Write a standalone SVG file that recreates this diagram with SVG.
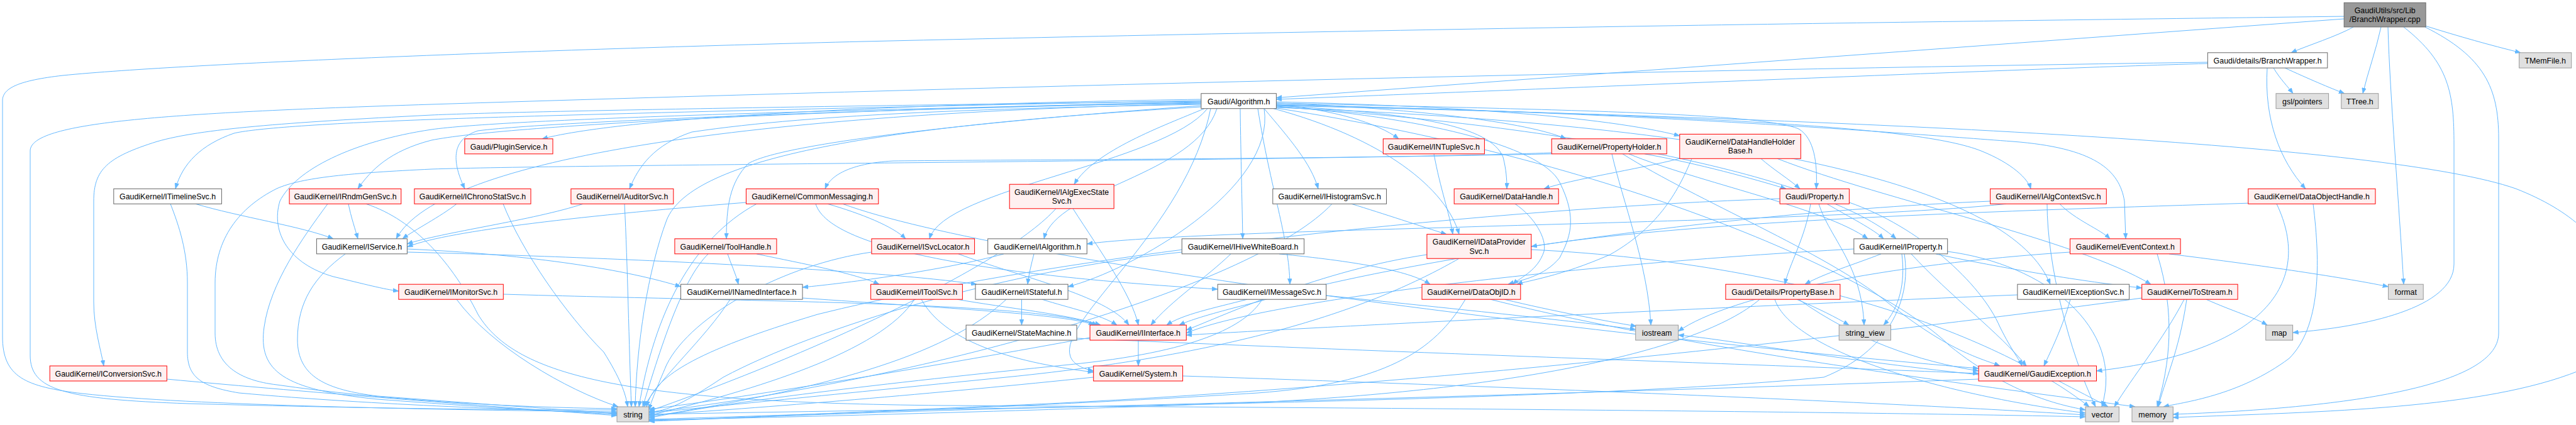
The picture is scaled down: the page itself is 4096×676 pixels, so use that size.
<svg xmlns="http://www.w3.org/2000/svg" width="4096" height="676" viewBox="0 0 4096 676">
<style>
.w rect{fill:#fff;stroke:#666;stroke-width:1}
.r rect{fill:#fff0f0;stroke:#f00;stroke-width:1}
.g rect{fill:#e0e0e0;stroke:#999;stroke-width:1}
.root rect{fill:#999;stroke:#666;stroke-width:1}
text{font-family:"Liberation Sans",Arial,sans-serif;font-size:12.4px;text-anchor:middle;fill:#000}
#edges path{fill:none;stroke:#63b8ff;stroke-width:1;marker-end:url(#a)}
</style>
<defs>
<marker id="a" markerWidth="9" markerHeight="7" refX="9" refY="3.5" orient="auto" markerUnits="userSpaceOnUse"><path d="M0,0 L9,3.5 L0,7 z" fill="#63b8ff" stroke="#63b8ff" stroke-width="0.5"/></marker>
</defs>
<rect x="0" y="0" width="4096" height="676" fill="#fff"/>
<g id="edges">
<path d="M3742,43 C3715,58 3670,72 3643,83.8"/>
<path d="M3786,43 C3778,80 3765,115 3757,148.7"/>
<path d="M3856,41 C3910,58 3960,72 4008,83.8"/>
<path d="M3797,43 C3800,150 3815,330 3822,452.2"/>
<path d="M3822,43 C3895,100 3902,150 3902,230 L3902,420 C3902,490 3760,520 3645.6,529"/>
<path d="M3856,43 C3950,90 3973,140 3973,220 L3973,530 C3973,620 3700,650 3455.3,659"/>
<path d="M3727,30 L2029.4,155.5"/>
<path d="M3727,26 C3200,33 2400,42 1373,66 C900,78 300,100 100,120 C30,128 4,140 4,160 L4,535 C4,600 40,615 131,626 C300,645 700,652 981,655"/>
<path d="M3615,108 C3625,125 3638,138 3646,148.7"/>
<path d="M3633,108 C3670,125 3705,140 3728,148.7"/>
<path d="M3605,108 C3600,190 3625,255 3666,300.3"/>
<path d="M3510.4,101 C3200,110 2500,140 2029.4,158"/>
<path d="M3510.4,99 C2600,112 1500,140 686,166 C250,180 48,195 48,240 L48,565 C48,620 100,635 300,642 C600,650 800,652 981,652"/>
<path d="M1910,158 C1450,165 1000,185 862,220.8"/>
<path d="M1910,160 C1400,170 900,182 686,190 C500,197 400,205 372,212 C320,230 290,260 279,300.3"/>
<path d="M1910,162 C1300,175 800,200 686,223 C620,240 590,270 569,300.3"/>
<path d="M1910,164 C1600,168 900,190 760,208 C715,222 720,260 739,300.3"/>
<path d="M1910,166 C1600,172 1300,180 1100,210 C1040,230 1015,265 1001,300.3"/>
<path d="M1915,172.7 C1850,200 1740,240 1708,293.2"/>
<path d="M1910,165 C1200,180 700,250 630,379.8"/>
<path d="M1910,168 C1600,190 1250,225 1190,260 C1160,290 1155,330 1155,379.8"/>
<path d="M1920,172.7 C1850,260 1500,300 1478,379.8"/>
<path d="M1935,172.7 C1900,280 1680,300 1660,379.8"/>
<path d="M1972,172.7 C1973,250 1975,320 1976,379.8"/>
<path d="M1910,163 C1300,175 800,190 686,206 C560,225 470,270 445,320 C430,370 460,420 530,440 C580,452 610,460 633.9,463"/>
<path d="M1910,161 C1200,170 800,178 686,183 C450,195 320,205 250,225 C170,250 149,270 149,320 L149,480 C149,520 160,555 165,582"/>
<path d="M1910,170 C1400,200 1100,250 1060,350 C1030,430 1012,550 1010,647"/>
<path d="M2010,172.7 C2030,300 1800,430 1698.1,456"/>
<path d="M2000,172.7 C2020,300 2050,380 2051,452.2"/>
<path d="M1925,172.7 C1880,400 1600,560 1738.7,590"/>
<path d="M2010,172.7 C2050,220 2085,260 2096,300.3"/>
<path d="M2029.4,166 C2120,175 2190,195 2224,220.8"/>
<path d="M2029.4,164 C2200,170 2420,190 2490,220.8"/>
<path d="M2029.4,162 C2300,168 2550,185 2670.8,216"/>
<path d="M2029.4,168 C2250,180 2370,200 2390,250 C2395,270 2396,285 2396,300.3"/>
<path d="M2029.4,164 C2500,175 2800,180 2860,205 C2885,220 2890,260 2888,300.3"/>
<path d="M2029.4,166 C2700,185 3050,200 3150,240 C3200,260 3225,285 3229,300.3"/>
<path d="M2025,172.7 C2200,220 2300,300 2320,372.6"/>
<path d="M2029.4,170 C2500,200 2900,280 3015,379.8"/>
<path d="M2029.4,167 C2600,178 3000,210 3200,225 C3330,235 3370,270 3378,320 L3380,379.8"/>
<path d="M2029.4,169 C2250,185 2450,230 2480,290 C2510,350 2495,380 2480,410 C2455,440 2420,445 2398,452.2"/>
<path d="M2029.4,171 C2800,200 3200,300 3260,452.2"/>
<path d="M2029.4,172 C2600,260 3000,450 3100,550 C3200,630 3280,645 3316,652"/>
<path d="M2029.4,168 C3000,190 3800,230 4000,300 C4180,370 4200,500 4100,590 C3950,650 3700,655 3455.3,664"/>
<path d="M2467.2,243 C2200,253 1600,254 1420,256 C1350,260 1320,280 1312,300.3"/>
<path d="M2467.2,244.8 C1800,258 900,262 686,269 C560,275 480,282 440,300 C380,330 342,380 342,450 L342,530 C342,580 380,605 440,612 C600,635 800,648 981,650"/>
<path d="M2615,244.8 C2700,260 2790,285 2840,300.3"/>
<path d="M2590,244.8 C2700,290 2900,330 2970,379.8"/>
<path d="M2580,244.8 C2700,320 2900,400 3000,480 C3100,560 3150,570 3180,582"/>
<path d="M2563,244.8 C2580,320 2620,420 2625,517.1"/>
<path d="M2672,252 C2600,270 2500,285 2455,300.3"/>
<path d="M2800,252.3 C2820,270 2845,285 2862,300.3"/>
<path d="M2826,252.3 C3000,320 3300,380 3420,452.2"/>
<path d="M2690,252.3 C2670,300 2640,360 2560,405 C2480,440 2430,446 2412,452.2"/>
<path d="M2879,324.3 C2870,380 2845,420 2838,452.2"/>
<path d="M2892,324.3 C2910,380 2960,420 2964,517.1"/>
<path d="M2905,324.3 C2940,345 2980,365 2995,379.8"/>
<path d="M2940.4,322 C3050,360 3150,450 3180,520 C3200,560 3210,570 3215,582"/>
<path d="M2830.1,316 C2400,330 1700,400 1300,500 C1100,560 1040,600 1028,647"/>
<path d="M3275,324.3 C3300,350 3340,365 3355,379.8"/>
<path d="M3164.6,320 C2700,340 2200,420 2000,480 C1920,500 1890,510 1875,517.1"/>
<path d="M3255,324.3 C3255,420 3290,560 3332,647"/>
<path d="M3190,324.3 C3000,345 2500,355 2300,362 C2000,370 1800,378 1728.3,388"/>
<path d="M3580,323 C3200,335 2700,350 2434.8,392"/>
<path d="M3678,324.3 C3690,420 3690,520 3640,570 C3560,630 3470,640 3440,647"/>
<path d="M3620,324.3 C3680,450 3600,560 3333.5,590"/>
<path d="M549,403.9 C500,440 473,480 473,540 C473,600 520,620 600,630 C800,645 900,652 981,658"/>
<path d="M647.4,396 C850,405 1000,430 1082.5,456"/>
<path d="M647.4,401 C1000,410 1400,430 1553,452.2"/>
<path d="M1157,403.9 C1162,420 1170,435 1174,452.2"/>
<path d="M1203,403.9 C1280,420 1360,435 1398,452.2"/>
<path d="M1126,403.9 C1090,440 1060,520 1022,647"/>
<path d="M1524,403.9 C1620,440 1760,470 1795,517.1"/>
<path d="M1385.9,401 C1250,420 1100,500 1060,580 C1045,615 1035,640 1031.8,652"/>
<path d="M1644,403.9 C1640,420 1636,435 1634,452.2"/>
<path d="M1596,403.9 C1500,430 1350,450 1276,457"/>
<path d="M1957,403.9 C1920,440 1860,480 1830,517.1"/>
<path d="M1879.3,401 C1600,430 1300,520 1150,600 C1090,640 1060,655 1031.8,655"/>
<path d="M2034,403.9 C2150,415 2240,430 2274,452.2"/>
<path d="M2268.9,405 C2100,430 1950,500 1886.3,525"/>
<path d="M2320,411.2 C2200,480 2000,560 1600,600 C1300,630 1100,650 1031.8,657"/>
<path d="M2434.8,397 C2900,420 3200,550 3322,647"/>
<path d="M2991,403.9 C2950,420 2900,435 2870,452.2"/>
<path d="M3024,403.9 C3030,450 3020,490 2995,517.1"/>
<path d="M3039,403.9 C3100,470 3180,530 3222,582"/>
<path d="M2947.8,396 C2500,420 2000,480 1886.3,530"/>
<path d="M3028,403.9 C3040,480 3000,560 2900,600 C2500,640 1500,650 1031.8,659"/>
<path d="M3078,403.9 C3200,430 3330,450 3405.7,458"/>
<path d="M3096.7,400 C3250,420 3380,520 3342,647"/>
<path d="M3449,403.9 C3580,420 3720,440 3797.6,456"/>
<path d="M3291.5,401 C3000,420 2750,470 2668.5,527"/>
<path d="M3430,403.9 C3460,500 3450,580 3430,647"/>
<path d="M726,476.2 C780,550 900,620 983,647"/>
<path d="M800.3,468 C1200,480 1650,480 1745,517.1"/>
<path d="M1161,476.2 C1120,540 1050,600 1024,647"/>
<path d="M1276,474 C1500,490 1700,500 1740,517.1"/>
<path d="M1522,476.2 C1600,490 1700,500 1750,517.1"/>
<path d="M1454,476.2 C1400,560 1200,620 1031.8,661"/>
<path d="M1465,476.2 C1500,540 1600,575 1738.7,592"/>
<path d="M1624.5,476.2 L1624.5,517.1"/>
<path d="M1657,476.2 C1700,490 1750,500 1776,517.1"/>
<path d="M1600,476.2 C1500,570 1300,620 1031.8,663"/>
<path d="M1983,476.2 C1930,490 1880,500 1855,517.1"/>
<path d="M2007,476.2 C1980,520 1900,560 1700,580 C1400,610 1150,640 1031.8,665"/>
<path d="M2108.7,470 C2300,490 2500,510 2600.7,524"/>
<path d="M2392,476.2 C2470,495 2550,510 2602,519"/>
<path d="M2330,476.2 C2280,560 2200,610 2000,625 C1600,650 1200,662 1031.8,667"/>
<path d="M2370,476.2 C2700,560 3200,620 3395,647"/>
<path d="M2857,476.2 C2890,490 2920,505 2940,517.1"/>
<path d="M2798,476.2 C2700,560 2400,620 2000,640 C1600,655 1200,665 1031.8,668"/>
<path d="M2860,476.2 C2950,540 3050,575 3146.1,590"/>
<path d="M2822,476.2 C2850,560 3100,630 3316,657"/>
<path d="M3292,476.2 C3280,520 3260,560 3250,582"/>
<path d="M3207.9,469 C2700,490 2100,520 1886.3,533"/>
<path d="M3508,476.2 C3550,495 3585,505 3605,517.1"/>
<path d="M3405.7,474 C3000,530 2200,620 1600,645 C1300,658 1100,668 1031.8,669"/>
<path d="M3473,476.2 C3440,540 3390,600 3362,647"/>
<path d="M3477,476.2 C3465,560 3440,610 3432,647"/>
<path d="M1712,538 C2200,560 2800,580 3146.1,594"/>
<path d="M1810,541.1 L1810,582"/>
<path d="M1733.1,537 C1500,580 1200,630 1031.8,651"/>
<path d="M1738.7,600 C1500,625 1200,650 1031.8,660"/>
<path d="M1880.6,598 C2400,615 3000,640 3316,660"/>
<path d="M3273,605.7 C3300,620 3330,635 3352,647"/>
<path d="M3146.1,603 C2700,620 2000,640 1600,650 C1300,658 1100,668 1031.8,670"/>
<path d="M3146.1,596 C2900,570 2750,540 2668.5,533"/>
<path d="M265.3,603 C500,625 800,648 981,661"/>
<path d="M311,324.3 C380,345 480,360 530,379.8"/>
<path d="M271,324.3 C285,360 298,400 298,450 L298,560 C298,600 320,615 380,625 C600,645 850,652 981,657"/>
<path d="M554,324.3 C558,345 565,365 569,379.8"/>
<path d="M521,324.3 C480,380 430,450 420,520 C410,590 450,620 600,635 C800,650 900,655 981,659"/>
<path d="M582,324.3 C660,350 720,420 760,500 C820,600 1000,640 1500,645 C2500,650 3100,658 3316,663"/>
<path d="M726,324.3 C700,345 660,365 640,379.8"/>
<path d="M800,324.3 C830,400 900,500 960,560 C985,600 995,625 998,647"/>
<path d="M927,324.3 C850,350 700,370 647.4,388"/>
<path d="M993,324.3 C998,420 1000,550 1004,647"/>
<path d="M1186.4,322 C900,345 700,370 647.4,393"/>
<path d="M1203,324.3 C1100,380 1040,500 1016,647"/>
<path d="M1316,324.3 C1370,340 1420,360 1440,379.8"/>
<path d="M1297,324.3 C1320,400 1600,440 1936.2,460"/>
<path d="M1340,324.3 C1600,420 2600,540 3146.1,586"/>
<path d="M1706,331.8 C1750,400 1800,470 1810,517.1"/>
<path d="M1679,331.8 C1600,420 1300,560 1031.8,654"/>
<path d="M2149,324.3 C2200,340 2260,360 2300,372.6"/>
<path d="M2118,324.3 C2000,450 1500,600 1031.8,656"/>
<path d="M2280,244.8 C2290,300 2305,340 2310,372.6"/>
<path d="M2409,324.3 C2440,345 2460,380 2455,400 C2445,430 2420,440 2405,452.2"/>
</g>
<g id="n_cpp" class="root"><rect x="3727.2" y="4.3" width="129.9" height="38.6"/><text x="3792.2" y="20.6">GaudiUtils/src/Lib</text><text x="3792.2" y="35.3">/BranchWrapper.cpp</text></g>
<g id="n_bw" class="w"><rect x="3510.4" y="83.8" width="190.4" height="24.3"/><text x="3605.6" y="100.8">Gaudi/details/BranchWrapper.h</text></g>
<g id="n_tmemfile" class="g"><rect x="4005.6" y="83.8" width="83.1" height="24.3"/><text x="4047.2" y="100.8">TMemFile.h</text></g>
<g id="n_gsl" class="g"><rect x="3619" y="148.7" width="83.6" height="24"/><text x="3660.8" y="165.7">gsl/pointers</text></g>
<g id="n_ttree" class="g"><rect x="3722.8" y="148.7" width="59" height="24"/><text x="3752.3" y="165.7">TTree.h</text></g>
<g id="n_alg" class="w"><rect x="1909.9" y="148.7" width="119.5" height="24"/><text x="1969.7" y="165.7">Gaudi/Algorithm.h</text></g>
<g id="n_plugin" class="r"><rect x="738.9" y="220.8" width="140.1" height="24"/><text x="809" y="237.8">Gaudi/PluginService.h</text></g>
<g id="n_ntuple" class="r"><rect x="2199.3" y="220.8" width="161.1" height="24"/><text x="2279.9" y="237.8">GaudiKernel/INTupleSvc.h</text></g>
<g id="n_propholder" class="r"><rect x="2467.2" y="220.8" width="183" height="24"/><text x="2558.7" y="237.8">GaudiKernel/PropertyHolder.h</text></g>
<g id="n_dhhb" class="r"><rect x="2670.8" y="213.4" width="192.5" height="38.9"/><text x="2767" y="229.7">GaudiKernel/DataHandleHolder</text><text x="2767" y="244.4">Base.h</text></g>
<g id="n_timeline" class="w"><rect x="180.8" y="300.3" width="171.6" height="24"/><text x="266.6" y="317.3">GaudiKernel/ITimelineSvc.h</text></g>
<g id="n_rndm" class="r"><rect x="460.1" y="300.3" width="177.7" height="24"/><text x="549" y="317.3">GaudiKernel/IRndmGenSvc.h</text></g>
<g id="n_chrono" class="r"><rect x="658.9" y="300.3" width="185.1" height="24"/><text x="751.5" y="317.3">GaudiKernel/IChronoStatSvc.h</text></g>
<g id="n_auditor" class="r"><rect x="907.9" y="300.3" width="162.9" height="24"/><text x="989.4" y="317.3">GaudiKernel/IAuditorSvc.h</text></g>
<g id="n_commonmsg" class="r"><rect x="1186.4" y="300.3" width="210.4" height="24"/><text x="1291.6" y="317.3">GaudiKernel/CommonMessaging.h</text></g>
<g id="n_algexec" class="r"><rect x="1605.2" y="293.2" width="166" height="38.6"/><text x="1688.2" y="309.5">GaudiKernel/IAlgExecState</text><text x="1688.2" y="324.2">Svc.h</text></g>
<g id="n_histo" class="w"><rect x="2023.8" y="300.3" width="180.7" height="24"/><text x="2114.2" y="317.3">GaudiKernel/IHistogramSvc.h</text></g>
<g id="n_datahandle" class="r"><rect x="2312.2" y="300.3" width="166" height="24"/><text x="2395.2" y="317.3">GaudiKernel/DataHandle.h</text></g>
<g id="n_property" class="r"><rect x="2830.1" y="300.3" width="110.3" height="24"/><text x="2885.3" y="317.3">Gaudi/Property.h</text></g>
<g id="n_algctx" class="r"><rect x="3164.6" y="300.3" width="184.7" height="24"/><text x="3257" y="317.3">GaudiKernel/IAlgContextSvc.h</text></g>
<g id="n_doh" class="r"><rect x="3574.8" y="300.3" width="202.2" height="24"/><text x="3675.9" y="317.3">GaudiKernel/DataObjectHandle.h</text></g>
<g id="n_iservice" class="w"><rect x="503.4" y="379.8" width="144" height="24"/><text x="575.4" y="396.8">GaudiKernel/IService.h</text></g>
<g id="n_toolhandle" class="r"><rect x="1072.9" y="379.8" width="162" height="24"/><text x="1153.9" y="396.8">GaudiKernel/ToolHandle.h</text></g>
<g id="n_svcloc" class="r"><rect x="1385.9" y="379.8" width="163.7" height="24"/><text x="1467.8" y="396.8">GaudiKernel/ISvcLocator.h</text></g>
<g id="n_ialgorithm" class="w"><rect x="1570.7" y="379.8" width="157.6" height="24"/><text x="1649.5" y="396.8">GaudiKernel/IAlgorithm.h</text></g>
<g id="n_hivewb" class="w"><rect x="1879.3" y="379.8" width="194.3" height="24"/><text x="1976.5" y="396.8">GaudiKernel/IHiveWhiteBoard.h</text></g>
<g id="n_dataprov" class="r"><rect x="2268.9" y="372.6" width="165.9" height="38.6"/><text x="2351.9" y="388.9">GaudiKernel/IDataProvider</text><text x="2351.9" y="403.6">Svc.h</text></g>
<g id="n_iproperty" class="w"><rect x="2947.8" y="379.8" width="148.9" height="24"/><text x="3022.3" y="396.8">GaudiKernel/IProperty.h</text></g>
<g id="n_eventctx" class="r"><rect x="3291.5" y="379.8" width="175.6" height="24"/><text x="3379.3" y="396.8">GaudiKernel/EventContext.h</text></g>
<g id="n_monitor" class="r"><rect x="633.9" y="452.2" width="166.4" height="24"/><text x="717.1" y="469.2">GaudiKernel/IMonitorSvc.h</text></g>
<g id="n_namedif" class="w"><rect x="1082.5" y="452.2" width="193.5" height="24"/><text x="1179.3" y="469.2">GaudiKernel/INamedInterface.h</text></g>
<g id="n_toolsvc" class="r"><rect x="1384.6" y="452.2" width="145.8" height="24"/><text x="1457.5" y="469.2">GaudiKernel/IToolSvc.h</text></g>
<g id="n_stateful" class="w"><rect x="1551" y="452.2" width="147.1" height="24"/><text x="1624.6" y="469.2">GaudiKernel/IStateful.h</text></g>
<g id="n_msgsvc" class="w"><rect x="1936.2" y="452.2" width="172.5" height="24"/><text x="2022.5" y="469.2">GaudiKernel/IMessageSvc.h</text></g>
<g id="n_dataobjid" class="r"><rect x="2261" y="452.2" width="156.8" height="24"/><text x="2339.4" y="469.2">GaudiKernel/DataObjID.h</text></g>
<g id="n_propbase" class="r"><rect x="2743.9" y="452.2" width="182" height="24"/><text x="2834.9" y="469.2">Gaudi/Details/PropertyBase.h</text></g>
<g id="n_excsvc" class="w"><rect x="3207.9" y="452.2" width="177.7" height="24"/><text x="3296.8" y="469.2">GaudiKernel/IExceptionSvc.h</text></g>
<g id="n_tostream" class="r"><rect x="3405.7" y="452.2" width="152.4" height="24"/><text x="3481.9" y="469.2">GaudiKernel/ToStream.h</text></g>
<g id="n_format" class="g"><rect x="3797.6" y="452.2" width="55.6" height="24"/><text x="3825.4" y="469.2">format</text></g>
<g id="n_statemachine" class="w"><rect x="1536.1" y="517.1" width="176" height="24"/><text x="1624.1" y="534.1">GaudiKernel/StateMachine.h</text></g>
<g id="n_iinterface" class="r"><rect x="1733.1" y="517.1" width="153.2" height="24"/><text x="1809.7" y="534.1">GaudiKernel/IInterface.h</text></g>
<g id="n_iostream" class="g"><rect x="2600.7" y="517.1" width="67.8" height="24"/><text x="2634.6" y="534.1">iostream</text></g>
<g id="n_string_view" class="g"><rect x="2924.2" y="517.1" width="82.3" height="24"/><text x="2965.4" y="534.1">string_view</text></g>
<g id="n_map" class="g"><rect x="3602.7" y="517.1" width="42.9" height="24"/><text x="3624.2" y="534.1">map</text></g>
<g id="n_convsvc" class="r"><rect x="79.2" y="582" width="186.1" height="24"/><text x="172.3" y="599">GaudiKernel/IConversionSvc.h</text></g>
<g id="n_system" class="r"><rect x="1738.7" y="582" width="141.9" height="24"/><text x="1809.7" y="599">GaudiKernel/System.h</text></g>
<g id="n_gaudiexc" class="r"><rect x="3146.1" y="582" width="187.4" height="24"/><text x="3239.8" y="599">GaudiKernel/GaudiException.h</text></g>
<g id="n_string" class="g"><rect x="981" y="647" width="50.8" height="24"/><text x="1006.4" y="664">string</text></g>
<g id="n_vector" class="g"><rect x="3316" y="647" width="53.4" height="24"/><text x="3342.7" y="664">vector</text></g>
<g id="n_memory" class="g"><rect x="3390" y="647" width="65.3" height="24"/><text x="3422.7" y="664">memory</text></g>
</svg>
